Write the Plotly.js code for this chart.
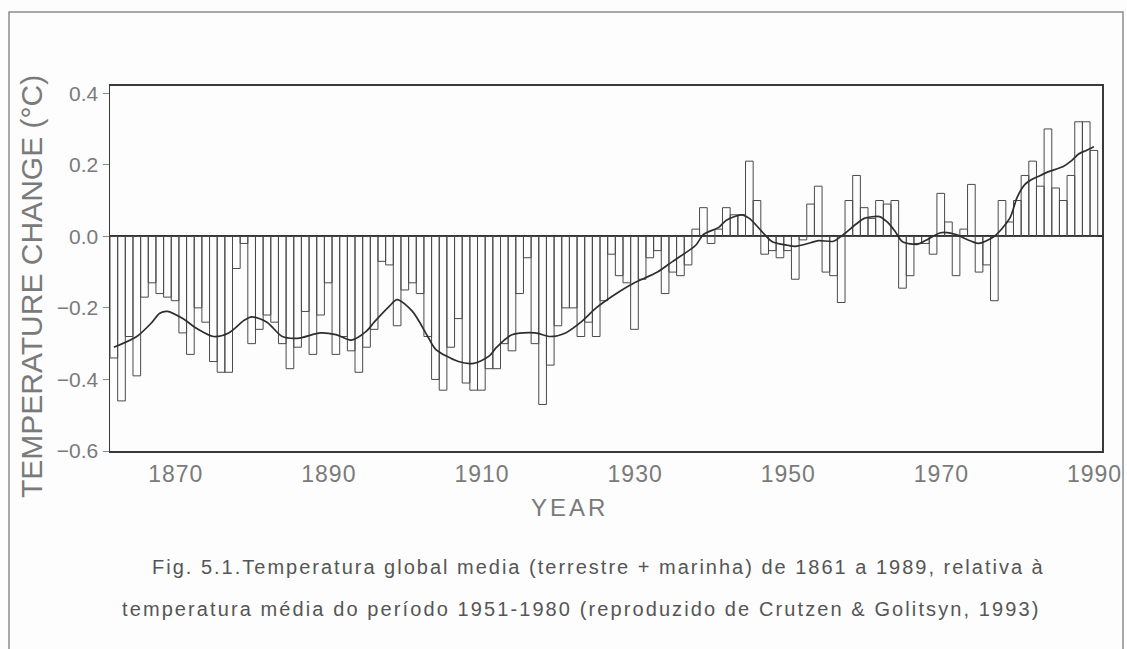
<!DOCTYPE html>
<html>
<head>
<meta charset="utf-8">
<script src="https://cdn.plot.ly/plotly-3.0.1.min.js"></script>
<style>
  html, body { margin: 0; padding: 0; background: #fdfdfd; }
  #chart { width: 1127px; height: 649px; }
  #chart g.annotation[data-index="1"] text { letter-spacing: 3px; }
  #chart g.annotation[data-index="2"] text { letter-spacing: 2px; }
  #chart g.annotation[data-index="3"] text { letter-spacing: 2.1px; }
  #chart g.xtick text { letter-spacing: 1px; }
</style>
</head>
<body>
<div id="chart"></div>
<script>
// Years 1861-1989
const years = [
  1861,1862,1863,1864,1865,1866,1867,1868,1869,1870,
  1871,1872,1873,1874,1875,1876,1877,1878,1879,1880,
  1881,1882,1883,1884,1885,1886,1887,1888,1889,1890,
  1891,1892,1893,1894,1895,1896,1897,1898,1899,1900,
  1901,1902,1903,1904,1905,1906,1907,1908,1909,1910,
  1911,1912,1913,1914,1915,1916,1917,1918,1919,1920,
  1921,1922,1923,1924,1925,1926,1927,1928,1929,1930,
  1931,1932,1933,1934,1935,1936,1937,1938,1939,1940,
  1941,1942,1943,1944,1945,1946,1947,1948,1949,1950,
  1951,1952,1953,1954,1955,1956,1957,1958,1959,1960,
  1961,1962,1963,1964,1965,1966,1967,1968,1969,1970,
  1971,1972,1973,1974,1975,1976,1977,1978,1979,1980,
  1981,1982,1983,1984,1985,1986,1987,1988,1989
];

// Annual anomalies (°C)
const annualChange = [
  -0.34,-0.46,-0.28,-0.39,-0.17,-0.13,-0.16,-0.17,-0.18,-0.27,
  -0.33,-0.20,-0.24,-0.35,-0.38,-0.38,-0.09,-0.02,-0.30,-0.26,
  -0.22,-0.24,-0.30,-0.37,-0.31,-0.21,-0.33,-0.22,-0.13,-0.33,
  -0.28,-0.32,-0.38,-0.31,-0.26,-0.07,-0.08,-0.25,-0.15,-0.13,
  -0.16,-0.28,-0.40,-0.43,-0.31,-0.23,-0.41,-0.43,-0.43,-0.37,
  -0.37,-0.30,-0.32,-0.16,-0.06,-0.30,-0.47,-0.36,-0.25,-0.20,
  -0.20,-0.28,-0.24,-0.28,-0.18,-0.05,-0.11,-0.13,-0.26,-0.12,
  -0.06,-0.04,-0.16,-0.10,-0.11,-0.08, 0.02, 0.08,-0.02, 0.02,
   0.08, 0.06, 0.06, 0.21, 0.10,-0.05,-0.04,-0.06,-0.04,-0.12,
  -0.01, 0.09, 0.14,-0.10,-0.11,-0.185,0.10, 0.17, 0.08, 0.05,
   0.10, 0.09, 0.10,-0.145,-0.11,-0.02,-0.02,-0.05, 0.12, 0.04,
  -0.11, 0.02, 0.145,-0.10,-0.08,-0.18, 0.10, 0.04, 0.10, 0.17,
   0.21, 0.14, 0.30, 0.135,0.10, 0.17, 0.32, 0.32, 0.24
];

// Smoothed curve
const smoothYears = [
  1861,1864,1866,1867,1868,1870,1872,1874,1876,1878,1879,1881,1883,1885,1888,
  1890,1892,1894,1895,1897,1898,1900,1902,1903,1906,1908,1910,1911,1913,1916,
  1918,1920,1922,1924,1927,1929,1932,1934,1937,1938,1940,1941,1943,1944,1946,
  1947,1949,1950,1952,1953,1955,1956,1958,1959,1961,1962,1963,1964,1966,1967,
  1969,1971,1972,1973,1974,1976,1978,1979,1980,1981,1982,1983,1985,1986,1987,
  1988,1989
];
const smoothChange = [
  -0.31,-0.28,-0.24,-0.215,-0.21,-0.23,-0.26,-0.28,-0.27,-0.235,-0.225,-0.24,-0.28,-0.285,-0.27,
  -0.275,-0.29,-0.265,-0.24,-0.195,-0.177,-0.21,-0.28,-0.315,-0.35,-0.355,-0.335,-0.31,-0.275,-0.27,
  -0.28,-0.27,-0.24,-0.20,-0.155,-0.13,-0.10,-0.07,-0.025,0.005,0.025,0.045,0.06,0.05,0.005,
  -0.015,-0.025,-0.028,-0.018,-0.012,-0.014,0.0,0.035,0.05,0.055,0.04,0.015,-0.015,-0.022,-0.012,
  0.01,0.005,-0.005,-0.014,-0.02,0.0,0.05,0.11,0.145,0.16,0.17,0.18,0.195,0.21,0.23,
  0.24,0.25
];

const xTickVals = [1870,1890,1910,1930,1950,1970,1990];
const xTickText = ['1870','1890','1910','1930','1950','1970','1990'];
const yTickVals = [0.4,0.2,0.0,-0.2,-0.4,-0.6];
const yTickText = ['0.4','0.2','0.0','\u22120.2','\u22120.4','\u22120.6'];

const captionLine1 = 'Fig. 5.1.Temperatura global media (terrestre + marinha) de 1861 a 1989, relativa à';
const captionLine2 = 'temperatura média do período 1951-1980 (reproduzido de Crutzen & Golitsyn, 1993)';

// plot area in pixels
const L = 110, R = 1102, T = 86, B = 451;
const PW = R - L, PH = B - T;
const px = v => (v - L) / PW;
const py = v => (B - v) / PH;

const textFont = 'Liberation Sans, Arial, sans-serif';

const traces = [
  {
    type: 'bar',
    x: years,
    y: annualChange,
    marker: { color: 'rgba(255,255,255,0)', line: { color: '#4a4a4a', width: 1 } },
    hoverinfo: 'x+y'
  },
  {
    type: 'scatter',
    mode: 'lines',
    x: smoothYears,
    y: smoothChange,
    line: { color: '#2e2e2e', width: 1.7, shape: 'spline', smoothing: 0.8 },
    hoverinfo: 'skip'
  }
];

const layout = {
  width: 1127,
  height: 649,
  autosize: false,
  showlegend: false,
  paper_bgcolor: '#fdfdfd',
  plot_bgcolor: '#fdfdfd',
  margin: { l: L, r: 1127 - R, t: T, b: 649 - B, pad: 0 },
  bargap: 0,
  xaxis: {
    range: [1860.5, 1990.06],
    tickvals: xTickVals,
    ticktext: xTickText,
    ticks: 'outside',
    ticklen: 2,
    tickcolor: 'rgba(0,0,0,0)',
    ticklabelshift: -7,
    ticklabeloverflow: 'allow',
    showgrid: false,
    zeroline: false,
    showline: true,
    mirror: true,
    linecolor: '#3a3a3a',
    linewidth: 1.8,
    tickfont: { family: textFont, size: 23, color: '#7a7a7a' }
  },
  yaxis: {
    range: [-0.6, 0.42],
    tickvals: yTickVals,
    ticktext: yTickText,
    ticks: 'outside',
    ticklen: 6,
    tickcolor: '#8a8a8a',
    showgrid: false,
    zeroline: true,
    zerolinecolor: '#2e2e2e',
    zerolinewidth: 1.8,
    showline: true,
    mirror: true,
    linecolor: '#3a3a3a',
    linewidth: 1.5,
    tickfont: { family: textFont, size: 21, color: '#7a7a7a' }
  },
  shapes: [
    {
      type: 'rect', xref: 'paper', yref: 'paper',
      x0: px(9), x1: px(1123), y0: py(662), y1: py(12),
      line: { color: '#8c8c8c', width: 1.5 }, fillcolor: 'rgba(0,0,0,0)', layer: 'below'
    }
  ],
  annotations: [
    {
      text: 'TEMPERATURE CHANGE (°C)',
      xref: 'paper', yref: 'paper',
      x: px(31), y: py(287),
      xanchor: 'center', yanchor: 'middle',
      textangle: -90, showarrow: false,
      font: { family: textFont, size: 30, color: '#7a7a7a' }
    },
    {
      text: 'YEAR',
      xref: 'paper', yref: 'paper',
      x: px(529), y: py(507),
      xanchor: 'left', yanchor: 'middle', align: 'left',
      showarrow: false,
      font: { family: textFont, size: 24, color: '#7a7a7a' }
    },
    {
      text: captionLine1,
      xref: 'paper', yref: 'paper',
      x: px(150), y: py(567),
      xanchor: 'left', yanchor: 'middle', align: 'left',
      showarrow: false,
      font: { family: textFont, size: 20, color: '#555555' }
    },
    {
      text: captionLine2,
      xref: 'paper', yref: 'paper',
      x: px(120), y: py(609),
      xanchor: 'left', yanchor: 'middle', align: 'left',
      showarrow: false,
      font: { family: textFont, size: 20, color: '#555555' }
    }
  ]
};

Plotly.newPlot('chart', traces, layout, { displayModeBar: false, staticPlot: true });
</script>
</body>
</html>
